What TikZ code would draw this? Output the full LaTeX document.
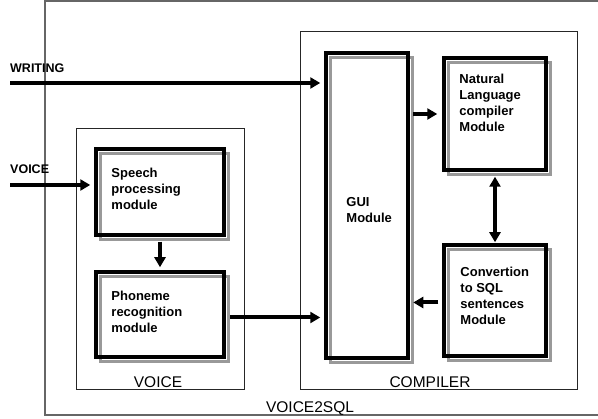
\documentclass[tikz,border=0pt]{standalone}
\usepackage{fontspec}
\setmainfont{Liberation Sans}
\usetikzlibrary{arrows.meta}

\begin{document}
\begin{tikzpicture}[x=1pt,y=-1pt,
		modulo/.style={draw,line width=3.5pt,inner sep=0pt,
			preaction={draw=gray!80,line width=3.5pt,transform canvas={shift={(4.5pt,-4.5pt)}}}},
		frame/.style={draw=black!85,line width=1pt},
		flow/.style={line width=4pt,-{Triangle[length=10pt,width=11pt]}},
		both/.style={line width=4pt,{Triangle[length=10pt,width=11pt]}-{Triangle[length=10pt,width=11pt]}},
		txt/.style={anchor=north west,inner sep=0pt,align=left,font=\bfseries\fontsize{13}{16}\selectfont},
		lab/.style={anchor=base west,inner sep=0pt,font=\bfseries\fontsize{12.5}{15}\selectfont},
		boxtitle/.style={anchor=base,inner sep=0pt,font=\fontsize{15.5}{18}\selectfont}]
			\useasboundingbox (0,0) rectangle (598,419);
			\draw[gray!80!black,line width=1.5pt] (45,1) rectangle (612,415);
			\draw[frame] (76,129) rectangle (244,390);
			\draw[frame] (300,32) rectangle (577,390);
			% modules
			\node[modulo,minimum width=128pt,minimum height=86pt] (speech) at (160,192) {};
			\node[modulo,minimum width=128pt,minimum height=85pt] (phon) at (160,314.5) {};
			\node[modulo,minimum width=82pt,minimum height=305pt] (gui) at (367,205.5) {};
			\node[modulo,minimum width=102pt,minimum height=112pt] (nl) at (495,114) {};
			\node[modulo,minimum width=102pt,minimum height=111pt] (conv) at (495,300.5) {};
			\node[txt] (speecht) at ([xshift=17pt,yshift=-21pt]speech.north west) {Speech\\processing\\module};
			\node[txt] (phont) at ([xshift=17pt,yshift=-21pt]phon.north west) {Phoneme\\recognition\\module};
			\node[txt] (guit) at ([xshift=22pt,yshift=-146pt]gui.north west) {GUI\\Module};
			\node[txt] (nlt) at ([xshift=17pt,yshift=-18pt]nl.north west) {Natural\\Language\\compiler\\Module};
			\node[txt] (convt) at ([xshift=18pt,yshift=-24pt]conv.north west) {Convertion\\to SQL\\sentences\\Module};
			% inputs
			\node[lab] (writing) at (10,73) {WRITING};
			\node[lab] (voicein) at (10,174) {VOICE};
			\coordinate (wr) at (10,83);
			\coordinate (vo) at (10,185);
			\draw[flow,shorten >=4pt] (wr) -- (wr -| gui.west);
			\draw[flow,shorten >=4pt] (vo) -- (vo -| speech.west);
			\draw[flow,shorten <=5pt,shorten >=3pt] (speech.south) -- (phon.north);
			\draw[flow,shorten <=4pt,shorten >=4pt] ([yshift=-3pt]phon.east) -- ([yshift=-3pt]phon.east -| gui.west);
			\draw[flow,shorten <=3.5pt,shorten >=5pt] (nl.west -| gui.east) -- (nl.west);
			\draw[both,shorten <=5pt,shorten >=1pt] (nl.south) -- (conv.north);
			\draw[flow,shorten <=4pt,shorten >=3.5pt] ([yshift=-2pt]conv.west) -- ([yshift=-2pt]conv.west -| gui.east);
			% titles
			\node[boxtitle] (voicet) at (158,388) {VOICE};
			\node[boxtitle] (compt) at (430,388) {COMPILER};
			\node[boxtitle] (vtitle) at (310,412.5) {VOICE2SQL};
\end{tikzpicture}
\end{document}
